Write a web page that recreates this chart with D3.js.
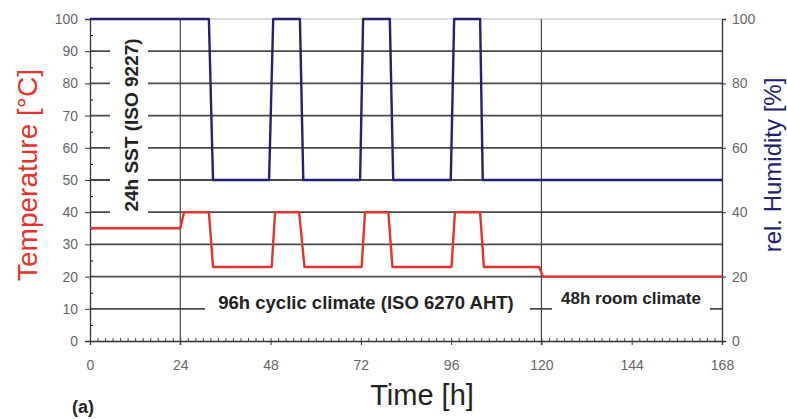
<!DOCTYPE html>
<html>
<head>
<meta charset="utf-8">
<script src="https://cdn.jsdelivr.net/npm/d3@7"></script>
<style>
  body { margin: 0; background: #fff; }
  svg { display: block; font-family: "Liberation Sans", Arial, sans-serif; }
</style>
</head>
<body>
<svg></svg>
<script>
// temperature profile [h, °C]
const tempTime = [0, 24, 25, 31.6, 32.7, 48.3, 49.2, 55.6, 57, 72.2, 73.1, 79.3, 80.4, 96.1, 97, 103.7, 104.7, 119.4, 120.4, 168];
const tempVal  = [35, 35, 40, 40, 23, 23, 40, 40, 23, 23, 40, 40, 23, 23, 40, 40, 23, 23, 20, 20];

// relative humidity profile [h, %]
const humTime = [0, 31.6, 32.7, 47.6, 48.7, 55.8, 56.7, 71.8, 72.6, 79.7, 80.6, 95.9, 96.8, 103.7, 104.4, 168];
const humVal  = [100, 100, 50, 50, 100, 100, 50, 50, 100, 100, 50, 50, 100, 100, 50, 50];

const timeTicks = [0, 24, 48, 72, 96, 120, 144, 168];
const tempTicks = d3.range(0, 101, 10);
const humTicks = [0, 20, 40, 60, 80, 100];
const phaseLines = [24, 120];

const width = 787, height = 419;
const svg = d3.select("svg").attr("width", width).attr("height", height);

const x = d3.scaleLinear().domain([0, 168]).range([90, 722]);
const y = d3.scaleLinear().domain([0, 100]).range([341, 19]);
const yHum = d3.scaleLinear().domain([0, 100]).range([341, 19]);

// horizontal grid
svg.append("g")
    .selectAll("line")
    .data(tempTicks.filter(d => d > 0))
    .enter().append("line")
    .attr("x1", x(0)).attr("x2", x(168))
    .attr("y1", d => y(d)).attr("y2", d => y(d))
    .attr("stroke", d => d === 100 ? "#bbb" : "#4a4a4a")
    .attr("stroke-width", d => d === 100 ? 1 : 1.8);

// white boxes behind the phase labels
const boxes = [
    [110, 22, 38, 198],
    [205, 288, 325, 32],
    [552, 286, 158, 30]
];
svg.append("g")
    .selectAll("rect")
    .data(boxes)
    .enter().append("rect")
    .attr("x", d => d[0]).attr("y", d => d[1])
    .attr("width", d => d[2]).attr("height", d => d[3])
    .attr("fill", "#fff");

// phase separators
svg.append("g")
    .selectAll("line")
    .data(phaseLines)
    .enter().append("line")
    .attr("x1", d => x(d)).attr("x2", d => x(d))
    .attr("y1", y(100)).attr("y2", y(0) + 4)
    .attr("stroke", "#444")
    .attr("stroke-width", 1.2);

// axes
const tickColor = "#666";

const bottomMinor = svg.append("g")
    .attr("transform", `translate(0,${y(0)})`)
    .call(d3.axisBottom(x).tickValues(d3.range(0, 169, 2)).tickSize(-3).tickFormat(""));
bottomMinor.select(".domain").remove();
bottomMinor.selectAll("line").attr("stroke", "#444");

const bottom = svg.append("g")
    .attr("transform", `translate(0,${y(0)})`)
    .call(d3.axisBottom(x).tickValues(timeTicks).tickSize(4).tickPadding(15));

const leftMinor = svg.append("g")
    .attr("transform", `translate(${x(0)},0)`)
    .call(d3.axisLeft(y).tickValues(d3.range(5, 100, 10)).tickSize(-3).tickFormat(""));
leftMinor.select(".domain").remove();

const left = svg.append("g")
    .attr("transform", `translate(${x(0)},0)`)
    .call(d3.axisLeft(y).tickValues(tempTicks).tickSize(5).tickPadding(7));

const right = svg.append("g")
    .attr("transform", `translate(${x(168)},0)`)
    .call(d3.axisRight(yHum).tickValues(humTicks).tickSize(4).tickPadding(6));

[bottom, left, right].forEach(g => {
    g.select(".domain").attr("stroke", "#333").attr("stroke-width", 1.3);
    g.selectAll(".tick line").attr("stroke", "#333");
    g.selectAll(".tick text")
        .attr("fill", tickColor)
        .style("font-size", "14px");
});

// data lines
const line = d3.line()
    .x(d => x(d[0]))
    .y(d => y(d[1]));

svg.append("path")
    .datum(humTime.map((t, i) => [t, humVal[i]]))
    .attr("fill", "none")
    .attr("stroke", "#22226e")
    .attr("stroke-width", 2.4)
    .attr("stroke-linejoin", "round")
    .attr("d", line);

svg.append("path")
    .datum(tempTime.map((t, i) => [t, tempVal[i]]))
    .attr("fill", "none")
    .attr("stroke", "#e2332c")
    .attr("stroke-width", 2.4)
    .attr("stroke-linejoin", "round")
    .attr("d", line);

// phase labels
svg.append("text")
    .attr("transform", "translate(138,125) rotate(-90)")
    .attr("text-anchor", "middle")
    .style("font-size", "19px")
    .style("font-weight", "bold")
    .attr("fill", "#222")
    .text("24h SST (ISO 9227)");

svg.append("text")
    .attr("x", 366).attr("y", 309)
    .attr("text-anchor", "middle")
    .style("font-size", "18.5px")
    .style("font-weight", "bold")
    .attr("fill", "#222")
    .text("96h cyclic climate (ISO 6270 AHT)");

svg.append("text")
    .attr("x", 631).attr("y", 304)
    .attr("text-anchor", "middle")
    .style("font-size", "17px")
    .style("font-weight", "bold")
    .attr("fill", "#222")
    .text("48h room climate");

// axis titles
svg.append("text")
    .attr("transform", "translate(37,175) rotate(-90)")
    .attr("text-anchor", "middle")
    .style("font-size", "28px")
    .attr("fill", "#e2332c")
    .text("Temperature [°C]");

svg.append("text")
    .attr("transform", "translate(781,165) rotate(-90)")
    .attr("text-anchor", "middle")
    .style("font-size", "24px")
    .attr("fill", "#22226e")
    .text("rel. Humidity [%]");

svg.append("text")
    .attr("x", 422).attr("y", 405)
    .attr("text-anchor", "middle")
    .style("font-size", "29px")
    .attr("fill", "#222")
    .text("Time [h]");

svg.append("text")
    .attr("x", 72).attr("y", 413)
    .style("font-size", "18px")
    .style("font-weight", "bold")
    .attr("fill", "#222")
    .text("(a)");
</script>
</body>
</html>
